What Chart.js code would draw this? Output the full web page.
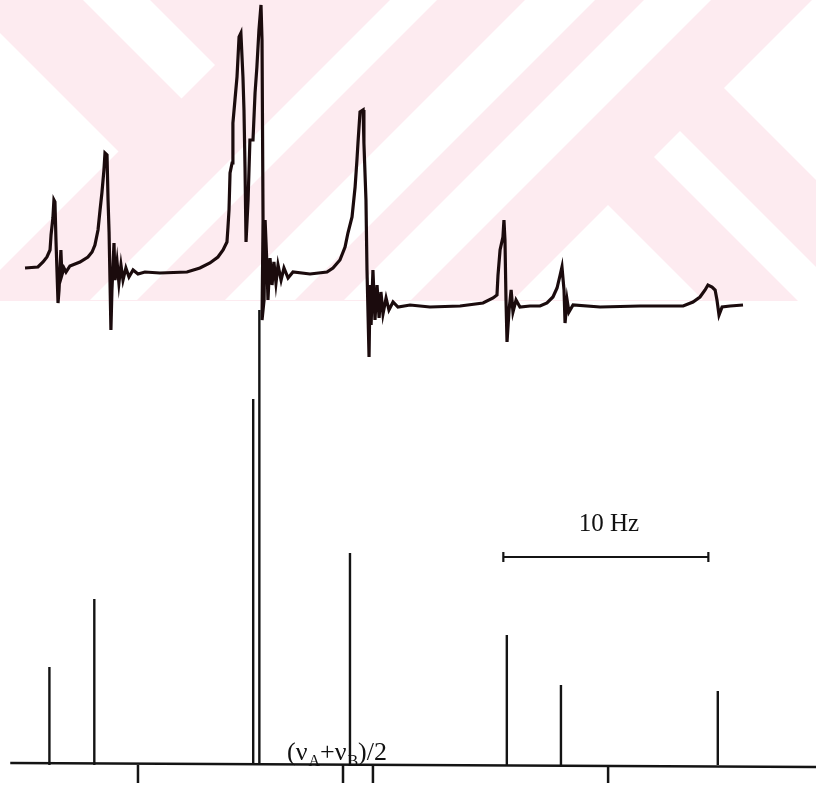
<!DOCTYPE html>
<html>
<head>
<meta charset="utf-8">
<script src="https://cdn.jsdelivr.net/npm/chart.js@4.4.1/dist/chart.umd.min.js"></script>
<style>
  html, body { margin: 0; padding: 0; background: #ffffff; }
  #wrap { width: 816px; height: 786px; }
</style>
</head>
<body>
<div id="wrap"><canvas id="c" width="816" height="786"></canvas></div>
<script>
// ---- Experimental spectrum trace (frequency offset in Hz, intensity in arbitrary units) ----
const traceFreq = [
  -15.51,-14.88,-14.63,-14.44,-14.29,-14.24,-14.15,-14.10,-14.05,-14.00,
  -13.90,-13.85,-13.76,-13.71,-13.61,-13.51,-13.32,-12.83,-12.44,-12.24,
  -12.10,-11.95,-11.85,-11.76,-11.66,-11.61,-11.51,-11.46,-11.41,-11.32,
  -11.27,-11.17,-11.12,-11.02,-10.93,-10.83,-10.73,-10.59,-10.44,-10.24,
  -10.00,-9.66,-8.93,-7.61,-6.98,-6.49,-6.10,-5.85,-5.66,-5.61,
  -5.56,-5.51,-5.41,-5.37,-5.27,-5.17,-5.07,-4.98,-4.88,-4.83,
  -4.78,-4.73,-4.63,-4.54,-4.39,-4.29,-4.20,-4.10,-4.00,-3.95,
  -3.90,-3.95,-3.85,-3.80,-3.71,-3.66,-3.56,-3.46,-3.37,-3.27,
  -3.17,-3.02,-2.88,-2.68,-2.44,-1.61,-0.78,-0.49,-0.15,0.10,
  0.24,0.44,0.59,0.68,0.73,0.83,0.98,1.02,1.12,1.17,
  1.27,1.32,1.37,1.46,1.56,1.66,1.76,1.85,1.95,2.10,
  2.24,2.44,2.68,3.27,4.24,5.71,6.83,7.32,7.51,7.56,
  7.66,7.80,7.85,7.90,7.95,8.00,8.10,8.20,8.29,8.44,
  8.63,9.12,9.61,9.95,10.24,10.44,10.59,10.68,10.78,10.83,
  10.93,11.02,11.22,12.54,14.49,16.59,17.07,17.41,17.66,17.80,
  18.00,18.15,18.24,18.34,18.49,18.88,19.51
];
const traceIntensity = [
  497,498,503,508,515,530,547,565,563,525,
  462,475,515,490,497,493,499,503,508,513,
  520,535,555,572,595,612,610,565,533,435,
  475,522,485,503,482,500,485,497,488,495,
  491,493,492,493,497,502,508,515,523,538,
  555,592,602,642,665,688,728,732,688,655,
  598,523,565,625,625,672,698,735,760,725,
  545,445,465,545,500,465,507,480,503,482,
  500,485,497,487,493,491,493,497,505,518,
  532,548,578,605,622,653,655,622,565,495,
  408,480,440,495,445,480,447,473,451,467,
  455,463,458,460,458,459,462,467,470,490,
  515,528,545,525,465,423,455,475,453,465,
  458,459,459,462,468,477,490,498,475,442,
  465,453,460,458,459,459,463,468,475,480,
  478,475,465,450,458,459,460
];

// ---- Calculated stick spectrum ----
const stickFreq = [-14.32, -12.13, -4.38, -4.08, 0.34, 7.99, 10.63, 18.28];
const stickIntensity = [98, 166, 366, 455, 212, 130, 80, 74];

// ---- Frequency axis ticks (Hz) and scale bar ----
const tickFreq = [-10.0, 0.0, 1.46, 12.93];
const tickLength = 18;
const scaleBarHz = [7.82, 17.82];
const scaleBarLevel = 208;
const scaleBarLabel = "10 Hz";
const midLabelParts = [["(\u03BD", false], ["A", true], ["+\u03BD", false], ["B", true], [")/2", false]];

// axis ranges
const X_MIN = -16.73, X_MAX = 23.07, Y_MIN = -21, Y_MAX = 765;

// build line data
const traceData = traceFreq.map((f, i) => ({ x: f, y: traceIntensity[i] }));
const stickData = [];
stickFreq.forEach((f, i) => { stickData.push({ x: f, y: 0 }, { x: f, y: stickIntensity[i] }, { x: f, y: null }); });
const tickData = [];
tickFreq.forEach(f => { tickData.push({ x: f, y: 0 }, { x: f, y: -tickLength }, { x: f, y: null }); });
const baseData = [{ x: X_MIN + 0.5, y: 2 }, { x: X_MAX, y: -2 }];
const barData = [
  { x: scaleBarHz[0], y: scaleBarLevel + 5 }, { x: scaleBarHz[0], y: scaleBarLevel - 5 }, { x: scaleBarHz[0], y: null },
  { x: scaleBarHz[0], y: scaleBarLevel }, { x: scaleBarHz[1], y: scaleBarLevel }, { x: scaleBarHz[1], y: null },
  { x: scaleBarHz[1], y: scaleBarLevel + 5 }, { x: scaleBarHz[1], y: scaleBarLevel - 5 }
];

// background watermark (decorative)
const watermark = {
  id: 'watermark',
  beforeDraw(chart) {
    const ctx = chart.ctx;
    ctx.save();
    ctx.fillStyle = '#ffffff';
    ctx.fillRect(0, 0, chart.width, chart.height);
    ctx.beginPath(); ctx.rect(0, 0, 816, 301); ctx.clip();
    ctx.fillStyle = '#fdebf0';
    ctx.fillRect(0, 0, 816, 301);
    ctx.fillStyle = '#ffffff';
    const polys = [
      [[0,33],[118.5,151.5],[0,270]],
      [[83,0],[150,0],[215,65],[181.5,98.5]],
      [[390,0],[437,0],[137,300],[90,300]],
      [[525,0],[595,0],[295,300],[225,300]],
      [[644,0],[711,0],[411,300],[344,300]],
      [[724,88],[812,0],[816,0],[816,180]],
      [[654,157],[680,131],[816,267],[816,319]],
      [[608,205],[513,300],[703,300]]
    ];
    polys.forEach(p => {
      ctx.beginPath();
      ctx.moveTo(p[0][0], p[0][1]);
      for (let i = 1; i < p.length; i++) ctx.lineTo(p[i][0], p[i][1]);
      ctx.closePath(); ctx.fill();
    });
    ctx.restore();
  }
};

const labels = {
  id: 'labels',
  afterDraw(chart) {
    const ctx = chart.ctx, xs = chart.scales.x, ys = chart.scales.y;
    ctx.save();
    ctx.fillStyle = '#111111';
    // 10 Hz label above the scale bar
    ctx.font = '25px "Liberation Serif", "Times New Roman", serif';
    ctx.textAlign = 'center';
    ctx.textBaseline = 'alphabetic';
    const cx = (xs.getPixelForValue(scaleBarHz[0]) + xs.getPixelForValue(scaleBarHz[1])) / 2 + 3;
    ctx.fillText(scaleBarLabel, cx, ys.getPixelForValue(scaleBarLevel) - 26);
    // (nuA+nuB)/2 label near the centre tick
    ctx.textAlign = 'left';
    let x = xs.getPixelForValue(0) - 56;
    const base = ys.getPixelForValue(0) - 5;
    midLabelParts.forEach(([t, sub]) => {
      ctx.font = sub ? '16px "Liberation Serif", serif' : '26px "Liberation Serif", serif';
      ctx.fillText(t, x, sub ? base + 6 : base);
      x += ctx.measureText(t).width + (sub ? 0 : 1);
    });
    ctx.restore();
  }
};

const lineDs = (data, color, width) => ({
  data, borderColor: color, borderWidth: width, showLine: true,
  pointRadius: 0, pointHoverRadius: 0, tension: 0, spanGaps: false, fill: false
});

new Chart(document.getElementById('c'), {
  type: 'scatter',
  data: {
    datasets: [
      lineDs(baseData, '#141414', 2.5),
      lineDs(tickData, '#141414', 2.5),
      lineDs(stickData, '#141414', 2.4),
      lineDs(barData, '#141414', 2.2),
      lineDs(traceData, '#1b0b0d', 3.2)
    ]
  },
  options: {
    responsive: false,
    animation: false,
    events: [],
    layout: { padding: 0 },
    plugins: { legend: { display: false }, tooltip: { enabled: false } },
    scales: {
      x: { type: 'linear', min: X_MIN, max: X_MAX, display: false },
      y: { type: 'linear', min: Y_MIN, max: Y_MAX, display: false }
    }
  },
  plugins: [watermark, labels]
});
</script>
</body>
</html>
